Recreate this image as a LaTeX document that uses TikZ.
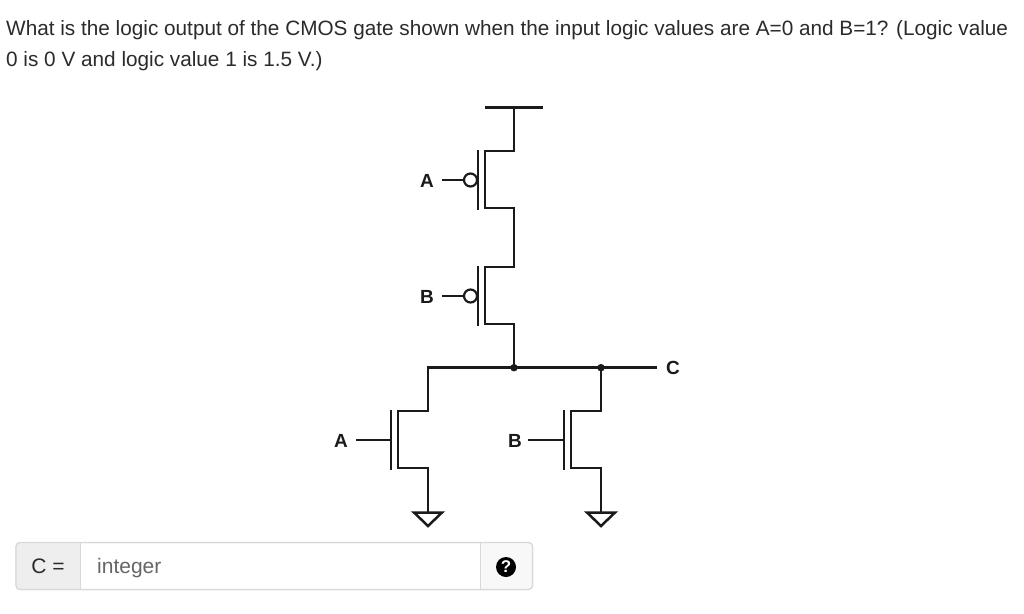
\documentclass[tikz,border=0pt]{standalone}
\usepackage{fontspec}
\setmainfont{Liberation Sans}
\definecolor{ink}{HTML}{1A1A1A}
\definecolor{addon}{HTML}{EEEEEE}
\definecolor{edge}{HTML}{D8D8D8}
\definecolor{soft}{HTML}{F8F8F8}
\definecolor{hint}{HTML}{666666}
\definecolor{txt}{HTML}{2B2B2B}
\tikzset{
  wire/.style={draw=ink,line width=2.5pt,line join=miter},
  gatebar/.style={draw=ink,line width=2.5pt},
  bubble/.style={circle,draw=ink,line width=2.2pt,fill=white,minimum size=13pt,inner sep=0pt},
  jun/.style={circle,fill=ink,minimum size=7.5pt,inner sep=0pt},
  pin/.style={font=\fontsize{19}{19}\selectfont\bfseries,text=ink,inner sep=0pt},
  gnd/.style={draw=ink,line width=2.5pt,line join=miter},
  qtext/.style={font=\fontsize{20.75}{31}\selectfont,text=txt,inner sep=0pt,anchor=base west},
  boxtext/.style={font=\fontsize{21}{24}\selectfont,inner sep=0pt}
}
\begin{document}
\begin{tikzpicture}[x=1pt,y=-1pt]
\useasboundingbox[fill=white] (0,0) rectangle (1024,613);
% question
\node[qtext] (q1) at (6,35) {What is the logic output of the CMOS gate shown when the input logic values are A=0 and B=1? (Logic value};
\node[qtext] (q2) at (6,66) {0 is 0 V and logic value 1 is 1.5 V.)};
% supply
\coordinate (vl) at (485,107.7);
\coordinate (vr) at (543,107.7);
\coordinate (vm) at (514,107.7);
\draw[wire] (vl) -- (vr);
% junctions
\coordinate (ja) at (514,367.7);
\coordinate (jb) at (601,367.7);
\coordinate (busl) at (428,367.7);
\coordinate (busr) at (657,367.7);
% PMOS stack
\draw[wire] (vm) -- (514,151) -- (485,151) -- (485,208) -- (514,208) -- (514,267) -- (485,267) -- (485,324) -- (514,324) -- (ja);
\draw[gatebar] (478,150) -- (478,210);
\draw[gatebar] (478,266) -- (478,326);
\coordinate (sa) at (442,180);
\coordinate (sb) at (442,296);
\node[bubble] (ba) at (470.5,180) {};
\node[bubble] (bb) at (470.5,296) {};
\draw[wire] (sa) -- (ba);
\draw[wire] (sb) -- (bb);
\node[pin] (la) at (427,180.5) {A};
\node[pin] (lb) at (427,296.5) {B};
% bus
\coordinate (gnda) at (428,512);
\coordinate (gndb) at (601,512);
\draw[wire] (gnda) -- (428,468) -- (398,468) -- (398,411) -- (428,411) -- (busl) -- (busr);
\draw[wire] (jb) -- (601,411) -- (571,411) -- (571,468) -- (601,468) -- (gndb);
\draw[gatebar] (391,410) -- (391,470);
\draw[gatebar] (564,410) -- (564,470);
\coordinate (ga) at (391,440);
\coordinate (gb) at (564,440);
\coordinate (sc) at (356,440);
\coordinate (sd) at (528,440);
\draw[wire] (sc) -- (ga);
\draw[wire] (sd) -- (gb);
\node[pin] (lc) at (341,440.5) {A};
\node[pin] (ld) at (515,440.5) {B};
\node[pin] (lo) at (673,368) {C};
\node[jun] (da) at (ja) {};
\node[jun] (db) at (jb) {};
% grounds
\draw[gnd] (414,512.5) -- (442,512.5) -- (428,526) -- cycle;
\draw[gnd] (587,512.5) -- (615,512.5) -- (601,526) -- cycle;
% input box
\draw[fill=white,draw=edge,line width=1pt,rounded corners=4pt] (16,542.5) rectangle (532.5,589.5);
\begin{scope}
\clip[rounded corners=4pt] (16,542.5) rectangle (532.5,589.5);
\fill[addon] (16,542.5) rectangle (80,589.5);
\fill[soft] (480,542.5) rectangle (532.5,589.5);
\draw[edge,line width=1pt] (80,542.5) -- (80,589.5);
\draw[edge,line width=1pt] (480,542.5) -- (480,589.5);
\end{scope}
\draw[edge,line width=1.2pt,rounded corners=4pt] (16,542.5) rectangle (532.5,589.5);
\node[boxtext,text=txt,anchor=base] (ceq) at (48,573) {C =};
\node[boxtext,text=hint,anchor=base west] (ph) at (97,573) {integer};
\node[circle,fill=black,minimum size=20pt,inner sep=0pt,text=white,font=\fontsize{17}{17}\selectfont\bfseries] (help) at (506,567) {?};
\end{tikzpicture}
\end{document}
